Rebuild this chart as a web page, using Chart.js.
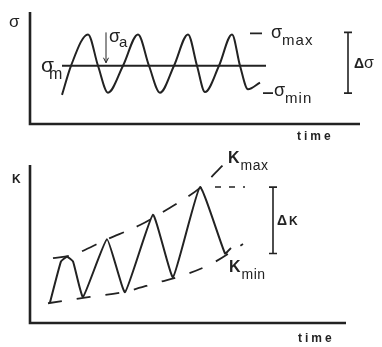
<!DOCTYPE html>
<html>
<head>
<meta charset="utf-8">
<script src="https://cdn.jsdelivr.net/npm/chart.js@4"></script>
<style>
  html, body { margin: 0; padding: 0; background: #fff; }
  #wrap { position: relative; width: 382px; height: 347px; }
  #wrap canvas { position: absolute; left: 0; }
  #stress-chart { top: 0; }
  #k-chart { top: 150px; }
</style>
</head>
<body>
<div id="wrap">
  <canvas id="stress-chart" width="382" height="150"></canvas>
  <canvas id="k-chart" width="382" height="197"></canvas>
</div>
<script>
// --- constant amplitude stress cycle ---
const stressTime   = [3.2, 4.1, 5.8, 6.8, 7.8, 9.3, 10.8, 11.9, 13.0, 14.4, 15.8, 16.7, 17.5, 18.9, 20.2, 21.0, 21.8, 23.0];
const stressValues = [2.6, 5.2, 8.0, 5.2, 2.8, 5.2, 8.0,  5.2,  2.8,  5.2,  8.0,  5.2,  2.85, 5.2,  8.0,  5.2,  3.1,  3.7];
const meanTime     = [3.2, 23.6];
const sigmaMean = 5.2;
const sigmaMax = 8.0;
const sigmaMin = 2.85;

// --- growing stress intensity ---
const kTime   = [2.0, 3.1, 3.7, 4.3, 5.3,  7.7, 9.5,  12.3, 14.3, 17.0, 19.5, 20.1];
const kValues = [1.3, 3.9, 4.2, 3.9, 1.65, 5.3, 1.95, 6.85, 2.9,  8.6,  4.4,  4.75];
const kMaxTime     = [2.3, 4.2, 7.7, 11.0, 14.0, 17.0, 19.3];
const kMaxEnvelope = [4.1, 4.3, 5.3, 6.2,  7.3,  8.55, 10.0];
const kMinTime     = [1.8,  6.0,  9.3,  12.7, 15.5, 18.3, 21.3];
const kMinEnvelope = [1.25, 1.65, 1.95, 2.55, 3.05, 3.8,  5.0];
const kPeak = 8.6;
const kTrough = 4.4;

const ink = '#222';
const face = '"Liberation Sans", Arial, sans-serif';

const toPoints = (xs, ys) => xs.map((x, i) => ({ x, y: ys[i] }));

// symbol with a subscript, drawn from (x, baseline)
const drawSymbol = (ctx, main, sub, x, y, mainFont, subFont, subDx, subDy, spacing) => {
    ctx.font = mainFont;
    ctx.fillText(main, x, y);
    const w = ctx.measureText(main).width;
    ctx.font = subFont;
    ctx.letterSpacing = spacing || '0px';
    ctx.fillText(sub, x + w + subDx, y + subDy);
    ctx.letterSpacing = '0px';
};

const drawAxes = (ctx, a) => {
    ctx.lineWidth = 2.6;
    ctx.beginPath();
    ctx.moveTo(a.left, a.top);
    ctx.lineTo(a.left, a.bottom);
    ctx.lineTo(a.right, a.bottom);
    ctx.stroke();
};

const drawBracket = (ctx, x, y1, y2) => {
    ctx.lineWidth = 1.6;
    ctx.beginPath();
    ctx.moveTo(x, y1); ctx.lineTo(x, y2);
    ctx.moveTo(x - 4, y1); ctx.lineTo(x + 4, y1);
    ctx.moveTo(x - 4, y2); ctx.lineTo(x + 4, y2);
    ctx.stroke();
};

const drawTime = (ctx, x, y) => {
    ctx.font = 'bold 12px ' + face;
    ctx.letterSpacing = '3px';
    ctx.fillText('time', x, y);
    ctx.letterSpacing = '0px';
};

const baseOptions = (xMax, pad) => ({
    responsive: false,
    animation: false,
    layout: { padding: pad },
    plugins: { legend: { display: false }, tooltip: { enabled: false } },
    elements: { point: { radius: 0 } },
    scales: {
        x: { type: 'linear', min: 0, max: xMax, display: false },
        y: { type: 'linear', min: 0, max: 10, display: false }
    }
});

// top panel: sigma vs time
const stressLabels = {
    id: 'stressLabels',
    afterDraw(chart) {
        const { ctx, chartArea: a, scales: { x, y } } = chart;
        ctx.save();
        ctx.strokeStyle = ink;
        ctx.fillStyle = ink;
        drawAxes(ctx, a);

        const yMax = y.getPixelForValue(sigmaMax);
        const yMin = y.getPixelForValue(sigmaMin);
        const yMean = y.getPixelForValue(sigmaMean);

        // amplitude arrow
        const ax = x.getPixelForValue(7.6);
        ctx.lineWidth = 1;
        ctx.beginPath();
        ctx.moveTo(ax, yMax - 2); ctx.lineTo(ax, yMean - 3);
        ctx.moveTo(ax - 2.5, yMean - 8); ctx.lineTo(ax, yMean - 3); ctx.lineTo(ax + 2.5, yMean - 8);
        ctx.stroke();

        // max / min ticks
        ctx.lineWidth = 1.6;
        ctx.beginPath();
        ctx.moveTo(x.getPixelForValue(22.0), yMax - 1); ctx.lineTo(x.getPixelForValue(23.2), yMax - 1);
        ctx.moveTo(x.getPixelForValue(23.3), yMin + 1); ctx.lineTo(x.getPixelForValue(24.3), yMin + 1);
        ctx.stroke();

        drawBracket(ctx, x.getPixelForValue(31.8), yMax - 2, yMin + 1);

        ctx.textBaseline = 'alphabetic';
        ctx.font = '17px ' + face;
        ctx.fillText('σ', 9, 27);

        drawSymbol(ctx, 'σ', 'm', 41, yMean + 6, '21px ' + face, '16px ' + face, -5, 7);
        drawSymbol(ctx, 'σ', 'a', 109, 42, '18px ' + face, '15px ' + face, -1, 5);
        drawSymbol(ctx, 'σ', 'max', 271, yMax + 4, '18px ' + face, '15px ' + face, 0, 7, '1px');
        drawSymbol(ctx, 'σ', 'min', 274, yMin + 4, '18px ' + face, '15px ' + face, 0, 7, '1px');

        ctx.font = 'bold 14px ' + face;
        ctx.fillText('Δ', 354, (yMax + yMin) / 2 + 5);
        ctx.font = '16px ' + face;
        ctx.fillText('σ', 364, (yMax + yMin) / 2 + 5);

        drawTime(ctx, 297, 140);
        ctx.restore();
    }
};

new Chart(document.getElementById('stress-chart'), {
    type: 'line',
    data: {
        datasets: [
            {
                data: toPoints(stressTime, stressValues),
                borderColor: ink, borderWidth: 2,
                cubicInterpolationMode: 'monotone', clip: false
            },
            {
                data: toPoints(meanTime, [sigmaMean, sigmaMean]),
                borderColor: ink, borderWidth: 1.8, clip: false
            }
        ]
    },
    options: baseOptions(33, { left: 30, right: 22, top: 12, bottom: 26 }),
    plugins: [stressLabels]
});

// bottom panel: K vs time
const kLabels = {
    id: 'kLabels',
    afterDraw(chart) {
        const { ctx, chartArea: a, scales: { x, y } } = chart;
        ctx.save();
        ctx.strokeStyle = ink;
        ctx.fillStyle = ink;
        drawAxes(ctx, a);

        const yPeak = y.getPixelForValue(kPeak);
        const yTrough = y.getPixelForValue(kTrough);

        drawBracket(ctx, x.getPixelForValue(24.3), yPeak, yTrough);

        ctx.font = 'bold 12px ' + face;
        ctx.fillText('K', 12, 33);

        drawSymbol(ctx, 'K', 'max', 228, 13, 'bold 16px ' + face, '14px ' + face, 1, 7, '0.5px');
        drawSymbol(ctx, 'K', 'min', 229, 122, 'bold 16px ' + face, '14px ' + face, 1, 7, '0.5px');

        ctx.font = 'bold 14px ' + face;
        ctx.fillText('Δ', 277, (yPeak + yTrough) / 2 + 5);
        ctx.font = 'bold 12px ' + face;
        ctx.fillText('K', 289, (yPeak + yTrough) / 2 + 5);

        drawTime(ctx, 298, 192);
        ctx.restore();
    }
};

new Chart(document.getElementById('k-chart'), {
    type: 'line',
    data: {
        datasets: [
            {
                data: toPoints(kTime, kValues),
                borderColor: ink, borderWidth: 2, tension: 0.12, clip: false
            },
            {
                data: toPoints(kMaxTime, kMaxEnvelope),
                borderColor: ink, borderWidth: 1.8, borderDash: [16, 14],
                cubicInterpolationMode: 'monotone', clip: false
            },
            {
                data: toPoints(kMinTime, kMinEnvelope),
                borderColor: ink, borderWidth: 1.8, borderDash: [14, 15],
                cubicInterpolationMode: 'monotone', clip: false
            },
            {
                data: toPoints([18.5, 21.5], [kPeak, kPeak]),
                borderColor: ink, borderWidth: 1.5, borderDash: [6, 8], clip: false
            }
        ]
    },
    options: baseOptions(31.6, { left: 30, right: 36, top: 15, bottom: 24 }),
    plugins: [kLabels]
});
</script>
</body>
</html>
